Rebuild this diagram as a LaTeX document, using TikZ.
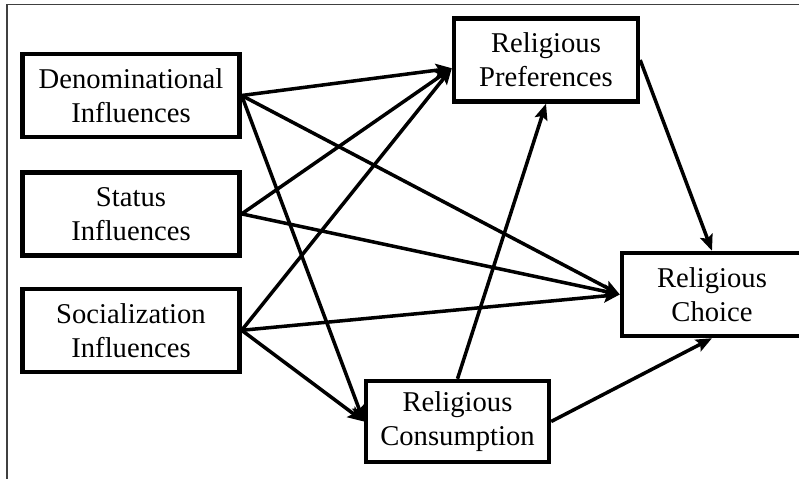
\documentclass[tikz,border=0pt]{standalone}
\usepackage{fontspec}
\setmainfont{Liberation Serif}
\usepackage{xcolor}
\usepackage{tikz}
\usetikzlibrary{positioning,arrows.meta}

\begin{document}
\begin{tikzpicture}[box/.style={rectangle,draw=black,line width=2.5pt,
inner sep=0pt,minimum width=4.34cm,minimum height=1.66cm,align=center,
font=\fontsize{16.3}{19.4}\selectfont},
path/.style={line width=2pt,-{Stealth[length=0.32cm,width=0.26cm,inset=0.06cm]}},
node distance=0.62cm]
\useasboundingbox (0,0) rectangle (15.98,9.58);
\draw [black!75,line width=0.6pt] (0.14,0) -- (0.14,9.49) -- (15.98,9.49);
\node[box] (denominational) at (2.62,7.67) {Denominational\\Influences};
\node[box] (status) [below=of denominational] {Status\\Influences};
\node[box] (socialization) [below=0.58cm of status] {Socialization\\Influences};
\node[box,minimum width=3.68cm] (preferences) at (10.92,8.38) {Religious\\Preferences};
\node[box,minimum width=3.6cm] (choice) at (14.24,3.69) {Religious\\Choice};
\node[box,minimum width=3.66cm,minimum height=1.62cm] (consumption) at (9.15,1.15) {Religious\\Consumption};
\draw [path] (denominational.east) to (preferences.185);
\draw [path] (denominational.east) to (choice.west);
\draw [path] (denominational.east) to (consumption.west);
\draw [path] (status.east) to (preferences.185);
\draw [path] (status.east) to (choice.west);
\draw [path] (socialization.east) to (preferences.185);
\draw [path] (socialization.east) to (choice.west);
\draw [path] (socialization.east) to (consumption.west);
\draw [path] (consumption.north) to (preferences.south);
\draw [path] (consumption.east) to (choice.south);
\draw [path] (preferences.east) to (choice.north);
\end{tikzpicture}
\end{document}
